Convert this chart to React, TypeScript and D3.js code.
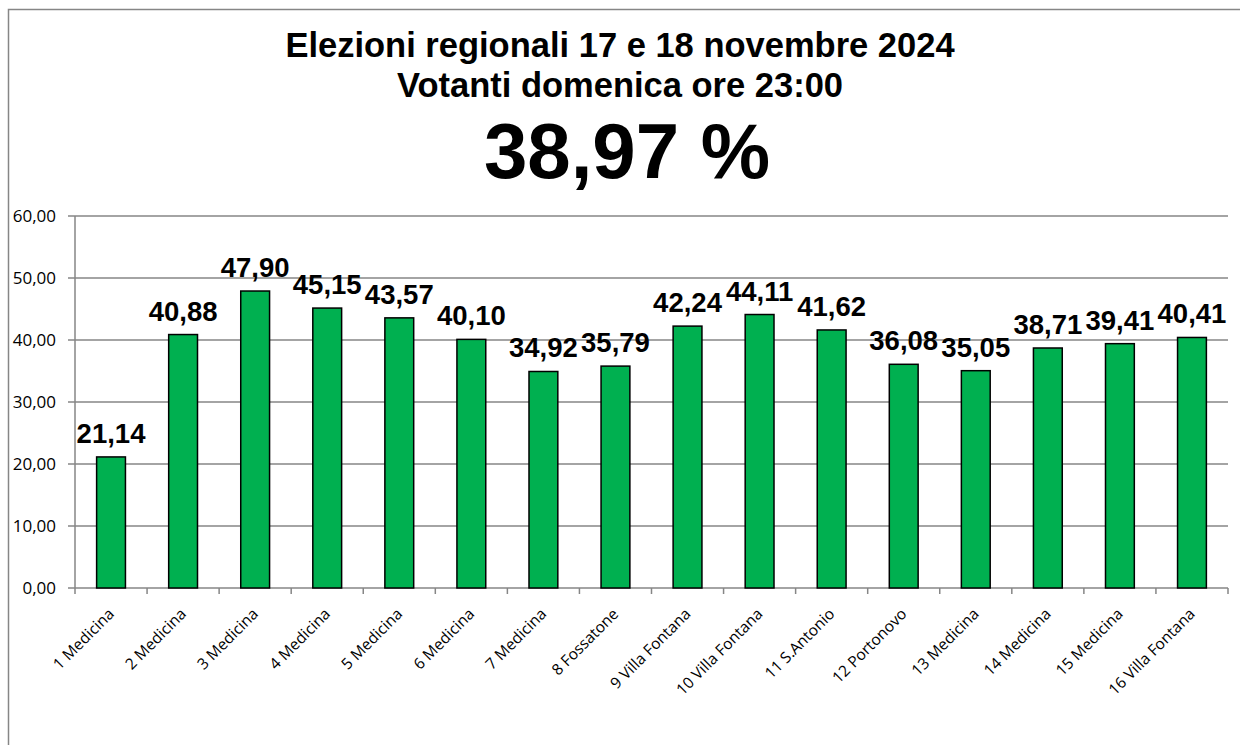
import React, { useEffect } from "react";
import * as d3 from "d3";

const categories = [
  "1 Medicina", "2 Medicina", "3 Medicina", "4 Medicina", "5 Medicina", "6 Medicina",
  "7 Medicina", "8 Fossatone", "9 Villa Fontana", "10 Villa Fontana", "11 S.Antonio",
  "12 Portonovo", "13 Medicina", "14 Medicina", "15 Medicina", "16 Villa Fontana",
];
const values = [21.14, 40.88, 47.9, 45.15, 43.57, 40.1, 34.92, 35.79, 42.24, 44.11, 41.62, 36.08, 35.05, 38.71, 39.41, 40.41];
const yTicks = [0, 10, 20, 30, 40, 50, 60];
const titleLines = ["Elezioni regionali 17 e 18 novembre 2024", "Votanti domenica ore 23:00"];
const totalLabel = "38,97 %";

const fmt = (v: number) => v.toFixed(2).replace(".", ",");

export default function App() {
  useEffect(() => {
    document.documentElement.style.overflow = "hidden";
    document.body.style.overflow = "hidden";
  }, []);
  const W = 1240, H = 745;
  const left = 75, right = 1228, top = 216, bottom = 588;
  const x = d3.scaleBand<string>().domain(categories).range([left, right]).paddingInner(0).paddingOuter(0);
  const y = d3.scaleLinear().domain([0, 60]).range([bottom, top]);
  const bw = x.bandwidth() * 0.4;
  const grid = "#868686";
  const axisFont = "'Open Sans', sans-serif";
  const boldFont = "'Liberation Sans', Arial, sans-serif";
  return (
    <svg width={W} height={H} style={{ position: "fixed", left: 0, top: 0, background: "#fff" }}>
      <path d={`M8.5,${H}V9.5H${W}`} fill="none" stroke={grid} strokeWidth={1.5} />
      {titleLines.map((t, i) => (
        <text key={t} x={620} y={57 + i * 40} textAnchor="middle" fontFamily={boldFont} fontWeight="bold" fontSize={34.5}>{t}</text>
      ))}
      <text x={627} y={178} textAnchor="middle" fontFamily={boldFont} fontWeight="bold" fontSize={78}>{totalLabel}</text>
      {yTicks.map((t) => (
        <g key={t}>
          <line x1={left - 7} x2={right} y1={y(t)} y2={y(t)} stroke={grid} strokeWidth={1.5} />
          <text x={56} y={y(t) + 6} textAnchor="end" fontFamily={axisFont} fontSize={17}>{fmt(t)}</text>
        </g>
      ))}
      <line x1={left} x2={left} y1={top} y2={bottom} stroke={grid} strokeWidth={1.5} />
      {categories.map((c, i) => (
        <line key={"tk" + i} x1={x(c)!} x2={x(c)!} y1={bottom} y2={bottom + 6} stroke={grid} strokeWidth={1.5} />
      ))}
      <line x1={right} x2={right} y1={bottom} y2={bottom + 6} stroke={grid} strokeWidth={1.5} />
      {categories.map((c, i) => {
        const cx = x(c)! + x.bandwidth() / 2;
        return (
          <g key={c}>
            <rect x={cx - bw / 2} y={y(values[i])} width={bw} height={bottom - y(values[i])} fill="#00B050" stroke="#000" strokeWidth={1.5} />
            <text x={cx} y={y(values[i]) - 14} textAnchor="middle" fontFamily={boldFont} fontWeight="bold" fontSize={27.5}>{fmt(values[i])}</text>
            <text transform={`translate(${cx + 4},${bottom + 27}) rotate(-45)`} textAnchor="end" fontFamily={axisFont} fontSize={15.5}>{c}</text>
          </g>
        );
      })}
    </svg>
  );
}
